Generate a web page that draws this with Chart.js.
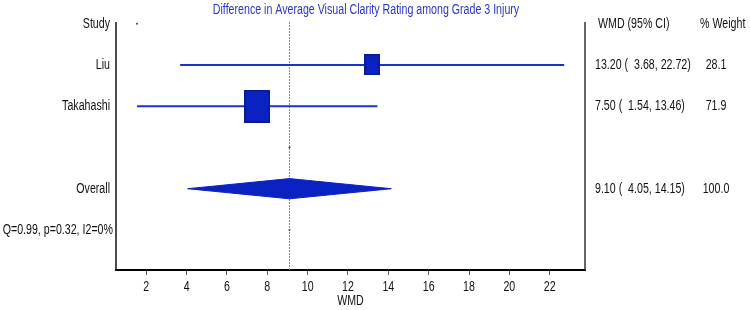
<!DOCTYPE html>
<html>
<head>
<meta charset="utf-8">
<script src="https://cdn.jsdelivr.net/npm/chart.js@4/dist/chart.umd.min.js"></script>
<style>
  html, body { margin: 0; padding: 0; background: #fff; }
  canvas { display: block; }
</style>
</head>
<body>
<canvas id="c" width="750" height="310"></canvas>
<script>
// ---------- data ----------
const titleText = 'Difference in Average Visual Clarity Rating among Grade 3 Injury';
const studies = ['Liu', 'Takahashi'];
const studyRows = [1, 2];
const wmd = [13.20, 7.50];
const lower = [3.68, 1.54];
const upper = [22.72, 13.46];
const weights = [28.1, 71.9];
const overallLabel = 'Overall';
const overallRow = 4;
const overallEst = 9.10;
const overallLo = 4.05;
const overallHi = 14.15;
const overallWeight = 100.0;
const hetText = 'Q=0.99, p=0.32, I2=0%';
const hetRow = 5;
const xTicks = [2, 4, 6, 8, 10, 12, 14, 16, 18, 20, 22];
const xTitle = 'WMD';
const headerLeft = 'Study';
const headerCI = 'WMD (95% CI)';
const headerW = '% Weight';
const markerDots = [{x: 1.54, y: 0}, {x: 9.10, y: 3}, {x: 9.10, y: 5}];

// ---------- style ----------
const FONT = "'Liberation Sans', Arial, sans-serif";
const SX = 0.76; // horizontal condensing of text, as in the reference
const FS = 14;
const BLUE = '#0b22c2';
const BLUE_DARK = '#061a90';
const LINE_BLUE = '#1a35c4';
const TEXT = '#111';
const X_MIN = 0.5, X_MAX = 23.75;
const Y_MIN = -0.04, Y_MAX = 5.97;

function makeBox(w) {
  const c = document.createElement('canvas');
  c.width = Math.round(3.1 * Math.sqrt(w));
  c.height = Math.round(3.9 * Math.sqrt(w));
  const g = c.getContext('2d');
  g.fillStyle = BLUE;
  g.fillRect(0, 0, c.width, c.height);
  g.strokeStyle = BLUE_DARK;
  g.lineWidth = 1.5;
  g.strokeRect(0.75, 0.75, c.width - 1.5, c.height - 1.5);
  return c;
}

const datasets = [];
datasets.push({
  data: [{x: overallEst, y: Y_MIN}, {x: overallEst, y: Y_MAX}],
  showLine: true, borderColor: '#8a8a8a', borderWidth: 1, borderDash: [2, 1],
  pointRadius: 0, order: 6
});
studies.forEach((s, i) => {
  datasets.push({
    data: [{x: lower[i], y: studyRows[i]}, {x: upper[i], y: studyRows[i]}],
    showLine: true, borderColor: LINE_BLUE, borderWidth: 2, pointRadius: 0, order: 5
  });
});
const dh = 0.245;
datasets.push({
  data: [
    {x: overallLo, y: overallRow},
    {x: overallEst, y: overallRow - dh},
    {x: overallHi, y: overallRow},
    {x: overallEst, y: overallRow + dh},
    {x: overallLo, y: overallRow}
  ],
  showLine: true, fill: 'shape', backgroundColor: BLUE, borderColor: BLUE,
  borderWidth: 1, pointRadius: 0, tension: 0, order: 3
});
datasets.push({
  data: wmd.map((v, i) => ({x: v, y: studyRows[i]})),
  showLine: false,
  pointStyle: weights.map(w => makeBox(w)),
  pointRadius: 10, order: 2
});
datasets.push({
  data: markerDots, showLine: false, pointStyle: 'circle',
  pointRadius: 1, backgroundColor: '#444', borderColor: '#444', borderWidth: 0, order: 1
});

function txt(ctx, s, x, y, align, size, color) {
  ctx.save();
  ctx.font = size + 'px ' + FONT;
  ctx.fillStyle = color;
  ctx.textAlign = align;
  ctx.textBaseline = 'middle';
  ctx.translate(x, y);
  ctx.scale(SX, 1);
  ctx.fillText(s, 0, 0);
  ctx.restore();
}

const textPlugin = {
  id: 'forestText',
  afterDraw(chart) {
    const ctx = chart.ctx;
    const a = chart.chartArea;
    const ys = chart.scales.y;
    const xs = chart.scales.x;
    ctx.save();
    ctx.strokeStyle = '#111';
    ctx.lineWidth = 1.5;
    ctx.beginPath();
    ctx.moveTo(a.left, a.top); ctx.lineTo(a.left, a.bottom);
    ctx.stroke();
    ctx.strokeStyle = '#333';
    ctx.beginPath();
    ctx.moveTo(a.right, a.top); ctx.lineTo(a.right, a.bottom);
    ctx.stroke();
    ctx.restore();

    // title
    txt(ctx, titleText, 366, 10, 'center', FS, '#2536cc');

    // left labels
    txt(ctx, headerLeft, a.left - 6, ys.getPixelForValue(0), 'right', FS, TEXT);
    studies.forEach((s, i) => txt(ctx, s, a.left - 6, ys.getPixelForValue(studyRows[i]), 'right', FS, TEXT));
    txt(ctx, overallLabel, a.left - 6, ys.getPixelForValue(overallRow), 'right', FS, TEXT);
    txt(ctx, hetText, a.left - 3, ys.getPixelForValue(hetRow), 'right', FS, TEXT);

    // right columns
    txt(ctx, headerCI, a.right + 13, ys.getPixelForValue(0), 'left', FS, TEXT);
    txt(ctx, headerW, a.right + 115, ys.getPixelForValue(0), 'left', FS, TEXT);
    const pad = (v) => v.toFixed(2).padStart(5, ' ');
    const fmt = (e, l, h) => e.toFixed(2) + ' ( ' + pad(l) + ', ' + h.toFixed(2) + ')';
    studies.forEach((s, i) => {
      const y = ys.getPixelForValue(studyRows[i]);
      txt(ctx, fmt(wmd[i], lower[i], upper[i]), a.right + 10, y, 'left', FS, TEXT);
      txt(ctx, weights[i].toFixed(1), a.right + 131, y, 'center', FS, TEXT);
    });
    const yo = ys.getPixelForValue(overallRow);
    txt(ctx, fmt(overallEst, overallLo, overallHi), a.right + 10, yo, 'left', FS, TEXT);
    txt(ctx, overallWeight.toFixed(1), a.right + 131, yo, 'center', FS, TEXT);

    // x tick labels and axis title
    xs.ticks.forEach(t => {
      txt(ctx, String(t.value), xs.getPixelForValue(t.value), a.bottom + 17, 'center', FS, TEXT);
    });
    txt(ctx, xTitle, (a.left + a.right) / 2, a.bottom + 31.5, 'center', FS, TEXT);
  }
};

new Chart(document.getElementById('c'), {
  type: 'scatter',
  data: { datasets },
  options: {
    responsive: false,
    animation: false,
    devicePixelRatio: 1,
    layout: { padding: { left: 116, right: 165, top: 22, bottom: 0 } },
    plugins: { legend: { display: false }, tooltip: { enabled: false }, title: { display: false } },
    scales: {
      x: {
        type: 'linear', min: X_MIN, max: X_MAX,
        afterBuildTicks: (axis) => { axis.ticks = xTicks.map(v => ({ value: v })); },
        afterFit: (axis) => { axis.height = 40; },
        ticks: { display: false },
        grid: { display: true, drawOnChartArea: false, drawTicks: true, tickLength: 5, color: '#555', lineWidth: 1 },
        border: { display: true, color: '#000', width: 2 },
        title: { display: false }
      },
      y: {
        type: 'linear', min: Y_MIN, max: Y_MAX, reverse: true, display: false
      }
    }
  },
  plugins: [textPlugin]
});
</script>
</body>
</html>
